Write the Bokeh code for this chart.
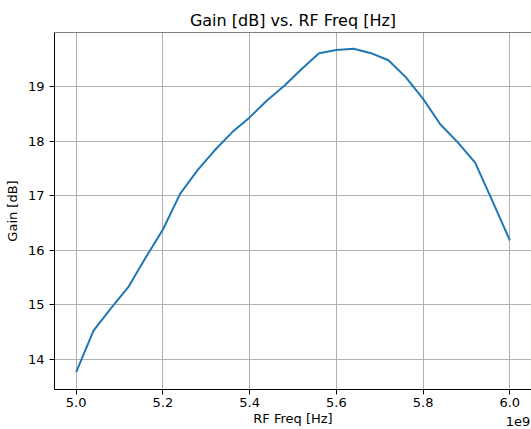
from bokeh.plotting import figure
from bokeh.models import FixedTicker, Range1d, Span, ColumnDataSource
from bokeh.embed import file_html
from bokeh.resources import INLINE

# ---- data ----
freq_hz = [5.00e9, 5.04e9, 5.08e9, 5.12e9, 5.16e9, 5.20e9, 5.24e9, 5.28e9, 5.32e9,
           5.36e9, 5.40e9, 5.44e9, 5.48e9, 5.52e9, 5.56e9, 5.60e9, 5.64e9, 5.68e9,
           5.72e9, 5.76e9, 5.80e9, 5.84e9, 5.88e9, 5.92e9, 5.96e9, 6.00e9]
gain_db = [13.76, 14.52, 14.93, 15.32, 15.86, 16.38, 17.04, 17.47, 17.84,
           18.17, 18.44, 18.75, 19.02, 19.33, 19.62, 19.68, 19.70, 19.62,
           19.49, 19.18, 18.78, 18.31, 17.98, 17.61, 16.90, 16.18]
x_ticks = [5.0e9, 5.2e9, 5.4e9, 5.6e9, 5.8e9, 6.0e9]
x_tick_labels = ["5.0", "5.2", "5.4", "5.6", "5.8", "6.0"]
y_ticks = [14, 15, 16, 17, 18, 19]
offset_text = "1e9"

FONT = "DejaVu Sans"
X_START, X_END = 4.95e9, 6.05e9
Y_START, Y_END = 13.44, 20.0
NBSP = "\u00a0"

src = ColumnDataSource(data=dict(freq=freq_hz, gain=gain_db))

p = figure(width=531, height=429, output_backend="svg", toolbar_location=None,
           x_range=Range1d(X_START, X_END), y_range=Range1d(Y_START, Y_END),
           title="Gain [dB] vs. RF Freq [Hz]",
           min_border_left=54, min_border_right=0, min_border_top=32, min_border_bottom=39)

p.line("freq", "gain", source=src, line_color="#1f77b4", line_width=2)

p.title.text_font = FONT
p.title.text_font_size = "16px"
p.title.text_font_style = "normal"
p.title.text_color = "black"
p.title.align = "center"
p.title.standoff = 6

p.background_fill_color = "white"
p.border_fill_color = "white"
p.outline_line_color = None

for ax in (p.xaxis[0], p.yaxis[0]):
    ax.axis_line_color = "black"
    ax.axis_line_width = 1
    ax.major_tick_line_color = "black"
    ax.major_tick_line_width = 1
    ax.major_tick_in = 0
    ax.major_tick_out = 5
    ax.minor_tick_line_color = None
    ax.major_label_text_font = FONT
    ax.major_label_text_font_size = "13px"
    ax.major_label_text_color = "black"
    ax.axis_label_text_font = FONT
    ax.axis_label_text_font_size = "13px"
    ax.axis_label_text_font_style = "normal"
    ax.axis_label_text_color = "black"

# last tick label carries the matplotlib-style offset text on a second line
labels = list(x_tick_labels)
labels[-1] = labels[-1] + "\n" + NBSP * 4 + offset_text
p.xaxis.ticker = FixedTicker(ticks=x_ticks)
p.xaxis.major_label_overrides = {t: l for t, l in zip(x_ticks, labels)}
p.xaxis.major_label_text_line_height = 1.3
p.xaxis.axis_label = "RF Freq [Hz]"
p.xaxis.major_label_standoff = 0
p.xaxis.axis_label_standoff = -21

p.yaxis.ticker = FixedTicker(ticks=y_ticks)
p.yaxis.axis_label = "Gain [dB]"
p.yaxis.major_label_standoff = 5
p.yaxis.axis_label_standoff = 5

p.xgrid.ticker = FixedTicker(ticks=x_ticks)
p.ygrid.ticker = FixedTicker(ticks=y_ticks)
for g in (p.xgrid[0], p.ygrid[0]):
    g.grid_line_color = "#b0b0b0"
    g.grid_line_width = 1

# top spine
p.add_layout(Span(location=Y_END, dimension="width", line_color="black", line_width=1))

open("out.html", "w").write(file_html(p, INLINE))
